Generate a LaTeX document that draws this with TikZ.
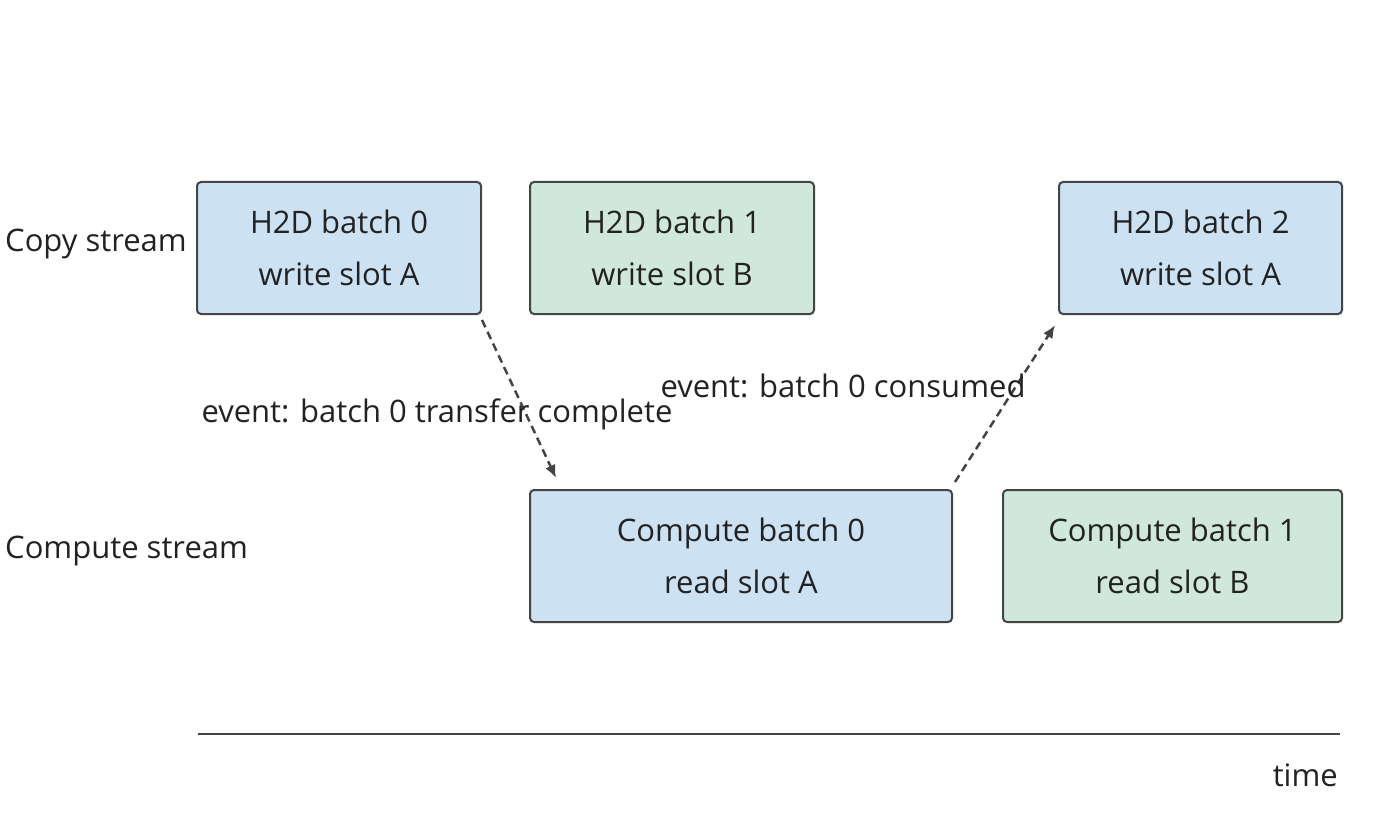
\documentclass[tikz,border=0pt]{standalone}
\usepackage{fontspec}
\setmainfont{Open Sans}
\usetikzlibrary{arrows.meta}
\definecolor{slotA}{HTML}{CCE2F2}
\definecolor{slotB}{HTML}{D0E8DC}
\definecolor{edge}{HTML}{444444}
\definecolor{ink}{HTML}{222222}
\tikzset{
  batchbox/.style={draw=edge, line width=2pt, rounded corners=4pt, inner sep=0pt,
    align=center, text=ink, font=\fontsize{31}{52}\selectfont},
  evarrow/.style={draw=edge, line width=2.5pt, dashed, dash pattern=on 8pt off 5pt,
    -{Latex[length=13pt,width=11pt]}},
  lbl/.style={text=ink, font=\fontsize{31}{38}\selectfont, inner sep=0pt}
}
\begin{document}
\begin{tikzpicture}[x=1pt,y=-1pt]
  \useasboundingbox (0,0) rectangle (1400,821);
  % stream rows
  \node[lbl, anchor=west] (copylbl) at (5,244) {Copy stream};
  \node[lbl, anchor=west] (complbl) at (5,551) {Compute stream};
  % copy stream
  \node[batchbox, fill=slotA, minimum width=284pt, minimum height=132pt] (h0) at (339,248) {H2D batch 0\\write slot A};
  \node[batchbox, fill=slotB, minimum width=284pt, minimum height=132pt] (h1) at (672,248) {H2D batch 1\\write slot B};
  \node[batchbox, fill=slotA, minimum width=283pt, minimum height=132pt] (h2) at (1200.5,248) {H2D batch 2\\write slot A};
  % compute stream
  \node[batchbox, fill=slotA, minimum width=422pt, minimum height=132pt] (c0) at (741,556) {Compute batch 0\\read slot A};
  \node[batchbox, fill=slotB, minimum width=339pt, minimum height=132pt] (c1) at (1172.5,556) {Compute batch 1\\read slot B};
  % events
  \coordinate (e1s) at (482,320);
  \coordinate (e1e) at (556,478);
  \coordinate (e2s) at (955,482);
  \coordinate (e2e) at (1055,325);
  \draw[evarrow] (e1s) -- (e1e);
  \draw[evarrow] (e2s) -- (e2e);
  \node[lbl] (ev1) at (437,414) {event: batch 0 transfer complete};
  \node[lbl] (ev2) at (843,386) {event: batch 0 consumed};
  % time axis
  \coordinate (t0) at (198,734);
  \coordinate (t1) at (1340,734);
  \draw[edge, line width=2pt] (t0) -- (t1);
  \node[lbl, anchor=east] (timelbl) at (1338,775) {time};
\end{tikzpicture}
\end{document}
